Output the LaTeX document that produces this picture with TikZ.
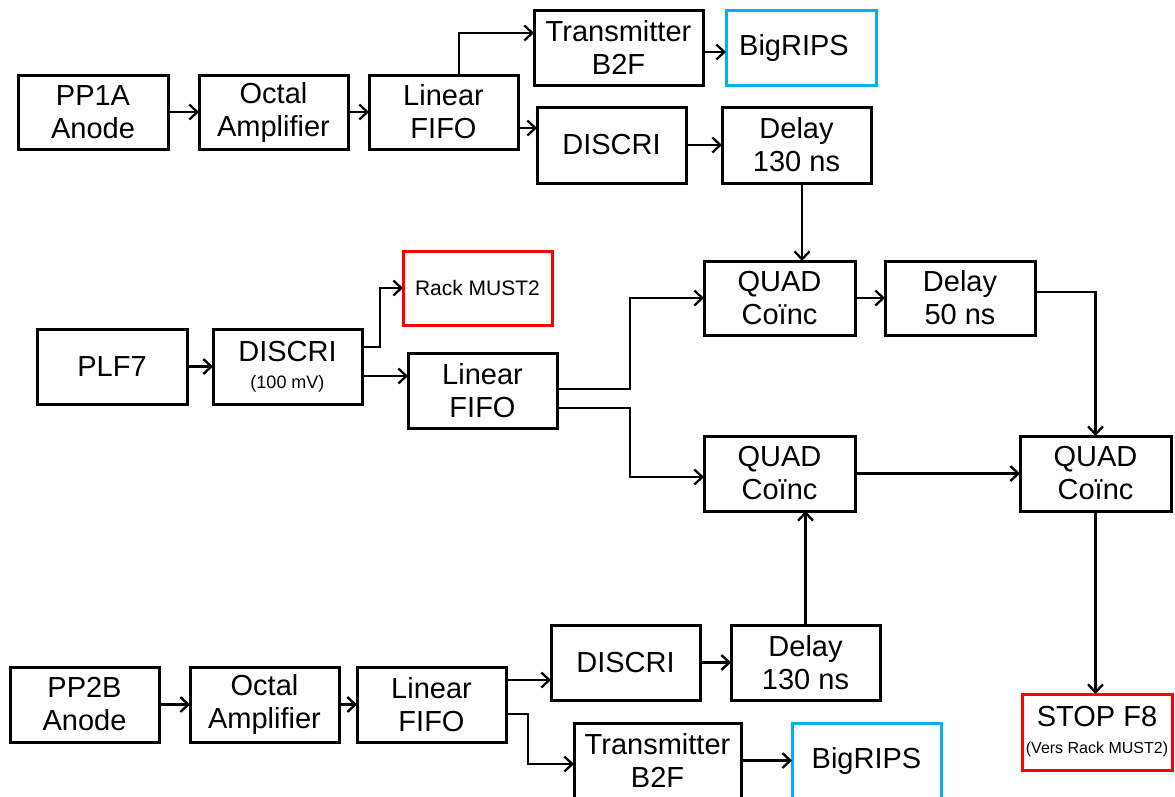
\documentclass[tikz,border=0pt]{standalone}
\usepackage{fontspec}
\setmainfont{Liberation Sans}
\usetikzlibrary{arrows.meta}
\definecolor{bluebox}{RGB}{0,176,240}
\definecolor{redbox}{RGB}{255,0,0}
\tikzset{
  box/.style={draw=black, line width=3pt, fill=white, inner sep=0pt, outer sep=0pt, align=center,
    font=\fontsize{29}{33}\selectfont},
  bluesq/.style={box, draw=bluebox},
  redsq/.style={box, draw=redbox},
  arr/.style={line width=2.5pt, -{Straight Barb[length=8pt,width=15pt,line width=2.3pt]}},
}
\newcommand{\smalltxt}[1]{{\fontsize{18}{20}\selectfont #1}}
\begin{document}
\begin{tikzpicture}[x=1pt,y=-1pt]
\useasboundingbox (0,0) rectangle (1175,796);
% top row
\node[box, minimum width=150pt, minimum height=74pt] (pp1a) at (93,112) {PP1A\\Anode};
\node[box, minimum width=149pt, minimum height=74pt] (oct1) at (273.5,112) {Octal\\Amplifier};
\node[box, minimum width=149pt, minimum height=74pt] (lin1) at (443.5,112) {Linear\\FIFO};
\node[box, minimum width=169pt, minimum height=75pt] (tr1) at (618.5,47.5) {Transmitter\\B2F};
\node[bluesq, minimum width=150pt, minimum height=75pt] (br1) at (801,47.5) {\hspace*{-14pt}BigRIPS};
\node[box, minimum width=149pt, minimum height=76pt] (dis1) at (611.5,145) {DISCRI};
\node[box, minimum width=149pt, minimum height=76pt] (del1) at (796.5,145) {Delay\\130 ns};
% middle
\node[redsq, minimum width=149pt, minimum height=74pt, font=\fontsize{21}{24}\selectfont] (rack) at (477.5,288) {Rack MUST2};
\node[box, minimum width=150pt, minimum height=75pt] (plf7) at (112,366.5) {PLF7};
\node[box, minimum width=149pt, minimum height=75pt] (dis2) at (287.5,366.5) {DISCRI\\[-6pt]\smalltxt{(100 mV)}};
\node[box, minimum width=149pt, minimum height=75pt] (lin2) at (482.5,390.5) {Linear\\FIFO};
\node[box, minimum width=151pt, minimum height=74pt] (q1) at (779.5,298) {QUAD\\Coïnc};
\node[box, minimum width=150pt, minimum height=74pt] (del50) at (960,298) {Delay\\50 ns};
\node[box, minimum width=151pt, minimum height=75pt] (q2) at (779.5,473.5) {QUAD\\Coïnc};
\node[box, minimum width=151pt, minimum height=75pt] (q3) at (1095.5,473.5) {QUAD\\Coïnc};
\node[redsq, minimum width=150pt, minimum height=76pt] (stop) at (1097,732) {STOP F8\\[-6pt]{\fontsize{16}{18}\selectfont (Vers Rack MUST2)}};
% bottom row
\node[box, minimum width=149pt, minimum height=75pt] (pp2b) at (84.5,704.5) {PP2B\\Anode};
\node[box, minimum width=149pt, minimum height=75pt] (oct2) at (264.5,704.5) {Octal\\Amplifier};
\node[box, minimum width=149pt, minimum height=75pt] (lin3) at (431.5,704.5) {Linear\\FIFO};
\node[box, minimum width=149pt, minimum height=75pt] (dis3) at (625.5,662.5) {DISCRI};
\node[box, minimum width=149pt, minimum height=75pt] (del3) at (805.5,662.5) {Delay\\130 ns};
\node[box, minimum width=167pt, minimum height=75pt] (tr2) at (657.5,760.5) {Transmitter\\B2F};
\node[bluesq, minimum width=149pt, minimum height=75pt] (br2) at (866.5,760.5) {BigRIPS};
% connectors top
\draw[arr] (pp1a.east) -- (oct1.west);
\draw[arr] (oct1.east) -- (lin1.west);
\draw[arr] ([xshift=15.5pt]lin1.north) |- ([yshift=14.5pt]tr1.west);
\draw[arr] ([yshift=-16pt]lin1.east) -- ([yshift=-16pt]lin1.east -| dis1.west);
\draw[arr] ([yshift=-4.5pt]tr1.east) -- ([yshift=-4.5pt]tr1.east -| br1.west);
\draw[arr] (dis1.east) -- (del1.west);
\draw[arr] ([xshift=5.5pt]del1.south) -- ([xshift=5.5pt]del1.south |- q1.north);
% connectors middle
\draw[arr] (plf7.east) -- (dis2.west);
\draw[arr] ([yshift=19.5pt]dis2.east) -- ++(18pt,0) |- (rack.west);
\draw[arr] ([yshift=-9.5pt]dis2.east) -- ([yshift=-9.5pt]dis2.east -| lin2.west);
\draw[arr] ([yshift=1.5pt]lin2.east) -- ++(73pt,0) |- (q1.west);
\draw[arr] ([yshift=-17.5pt]lin2.east) -- ++(73pt,0) |- ([yshift=-3.5pt]q2.west);
\draw[arr] (q1.east) -- (del50.west);
\draw[arr] ([yshift=6pt]del50.east) -| (q3.north);
\draw[arr] (q2.east) -- (q3.west);
\draw[arr] (q3.south) -- (q3.south |- stop.north);
% connectors bottom
\draw[arr] (pp2b.east) -- (oct2.west);
\draw[arr] (oct2.east) -- (lin3.west);
\draw[arr] ([yshift=24.5pt]lin3.east) -- ([yshift=24.5pt]lin3.east -| dis3.west);
\draw[arr] ([yshift=-9.5pt]lin3.east) -- ++(22pt,0) |- ([yshift=-3.5pt]tr2.west);
\draw[arr] (dis3.east) -- (del3.west);
\draw[arr] (del3.north) -- (del3.north |- q2.south);
\draw[arr] (tr2.east) -- (br2.west);
\end{tikzpicture}
\end{document}
